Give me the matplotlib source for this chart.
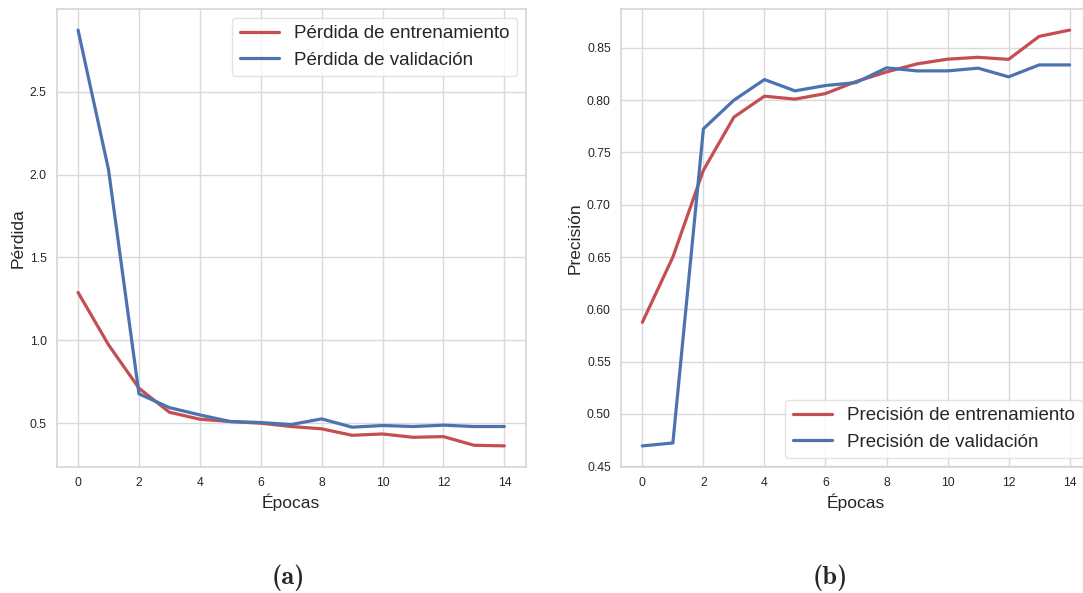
import matplotlib
matplotlib.use("Agg")
import matplotlib.pyplot as plt
import seaborn as sns

epochs = list(range(15))
train_loss = [1.289, 0.973, 0.711, 0.566, 0.524, 0.510, 0.500, 0.480, 0.466, 0.427, 0.435, 0.415, 0.419, 0.367, 0.363]
val_loss = [2.872, 2.030, 0.677, 0.594, 0.550, 0.510, 0.504, 0.492, 0.526, 0.476, 0.486, 0.480, 0.488, 0.480, 0.480]
train_acc = [0.5876, 0.650, 0.733, 0.7838, 0.8038, 0.801, 0.8063, 0.8178, 0.827, 0.8347, 0.8392, 0.841, 0.839, 0.861, 0.867]
val_acc = [0.4694, 0.4722, 0.7726, 0.800, 0.8197, 0.8089, 0.814, 0.8168, 0.8309, 0.828, 0.828, 0.8306, 0.8223, 0.8337, 0.8337]

labels_loss = ["Pérdida de entrenamiento", "Pérdida de validación"]
labels_acc = ["Precisión de entrenamiento", "Precisión de validación"]
xlabel = "Épocas"
ylabel_loss = "Pérdida"
ylabel_acc = "Precisión"
captions = ["(a)", "(b)"]
acc_ticks = [0.45, 0.50, 0.55, 0.60, 0.65, 0.70, 0.75, 0.80, 0.85]
loss_ticks = [0.5, 1.0, 1.5, 2.0, 2.5]

sns.set_style("whitegrid")
plt.rcParams['font.family'] = ['Liberation Sans', 'DejaVu Sans']

red = "#C44E52"
blue = "#4C72B0"

fig = plt.figure(figsize=(10.83, 5.93), dpi=100)
ax1 = fig.add_axes([0.0524, 0.213, 0.433, 0.7713])
ax2 = fig.add_axes([0.5734, 0.213, 0.434, 0.7713])

for ax in (ax1, ax2):
    for s in ax.spines.values():
        s.set_color("#d6d6d6")
        s.set_linewidth(1.2)
    ax.grid(True, color="#d9d9d9", linewidth=1.0)
    ax.tick_params(axis='both', labelsize=8.7, length=0, pad=7.3, labelcolor="#262626")
    ax.set_xticks(range(0, 15, 2))

ax1.plot(epochs, train_loss, color=red, lw=2.3, label=labels_loss[0])
ax1.plot(epochs, val_loss, color=blue, lw=2.3, label=labels_loss[1])
ax1.set_xlabel(xlabel, fontsize=12.5, color="#262626", labelpad=3.5)
ax1.set_ylabel(ylabel_loss, fontsize=12.5, color="#262626", labelpad=3)
ax1.set_yticks(loss_ticks)
ax1.legend(loc="upper right", fontsize=13.5, frameon=True, handlelength=2.1,
           edgecolor="#dddddd", fancybox=True, borderaxespad=0.45)

ax2.plot(epochs, train_acc, color=red, lw=2.3, label=labels_acc[0])
ax2.plot(epochs, val_acc, color=blue, lw=2.3, label=labels_acc[1])
ax2.set_xlabel(xlabel, fontsize=12.5, color="#262626", labelpad=3.5)
ax2.set_ylabel(ylabel_acc, fontsize=12.5, color="#262626", labelpad=3)
ax2.set_yticks(acc_ticks)
ax2.set_yticklabels(["%.2f" % v for v in acc_ticks])
ax2.legend(loc="lower right", fontsize=13.5, frameon=True, handlelength=2.1,
           edgecolor="#dddddd", fancybox=True, borderaxespad=0.45)

fig.text(288 / 1083, 1 - 578 / 593, captions[0], family="cmb10", fontsize=19, ha="center", va="center")
fig.text(830 / 1083, 1 - 578 / 593, captions[1], family="cmb10", fontsize=19, ha="center", va="center")

fig.savefig("out.png", dpi=100)
